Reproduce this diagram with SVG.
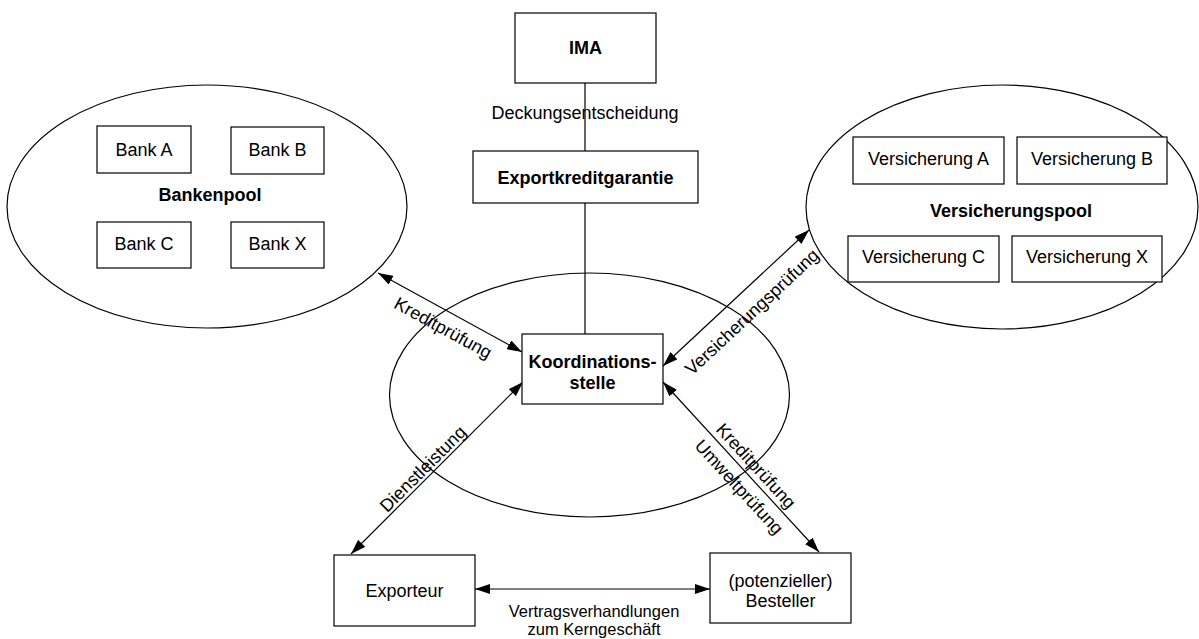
<svg xmlns="http://www.w3.org/2000/svg" width="1199" height="639" viewBox="0 0 1199 639">
  <defs>
    <marker id="arrow" viewBox="0 0 15 10" refX="15" refY="5" markerWidth="15" markerHeight="10" markerUnits="userSpaceOnUse" orient="auto-start-reverse">
      <path d="M0,0 L15,5 L0,10 Z" fill="#000"/>
    </marker>
    <style>
      .box { fill: #fff; stroke: #000; stroke-width: 1.2; }
      .pool { fill: none; stroke: #000; stroke-width: 1.2; }
      .line { fill: none; stroke: #000; stroke-width: 1.2; }
      .both { marker-start: url(#arrow); marker-end: url(#arrow); }
      text { font-family: "Liberation Sans", Arial, sans-serif; font-size: 18px; fill: #000; text-anchor: middle; }
      .b { font-weight: bold; }
      .s { font-size: 16.5px; }
    </style>
  </defs>

  <rect width="1199" height="639" fill="#fff"/>

  <!-- pools (ellipses) -->
  <g id="bankenpool">
    <ellipse class="pool" cx="207" cy="206.5" rx="200" ry="121.5"/>
    <text class="b" x="210" y="201">Bankenpool</text>
  </g>
  <g id="bank-a"><rect class="box" x="97" y="126" width="94" height="47"/><text x="144" y="156">Bank A</text></g>
  <g id="bank-b"><rect class="box" x="231" y="127" width="93" height="47"/><text x="277.5" y="156">Bank B</text></g>
  <g id="bank-c"><rect class="box" x="97" y="222" width="94" height="46"/><text x="144" y="250">Bank C</text></g>
  <g id="bank-x"><rect class="box" x="231" y="222" width="93" height="46"/><text x="277.5" y="250">Bank X</text></g>

  <g id="versicherungspool">
    <ellipse class="pool" cx="1002" cy="207" rx="196" ry="122"/>
    <text class="b" x="1011" y="217">Versicherungspool</text>
  </g>
  <g id="versicherung-a"><rect class="box" x="853" y="137" width="151" height="47"/><text x="928.5" y="165">Versicherung A</text></g>
  <g id="versicherung-b"><rect class="box" x="1017" y="137" width="150" height="47"/><text x="1092" y="165">Versicherung B</text></g>
  <g id="versicherung-c"><rect class="box" x="848" y="236" width="151" height="46"/><text x="923.5" y="263">Versicherung C</text></g>
  <g id="versicherung-x"><rect class="box" x="1012" y="236" width="150" height="46"/><text x="1087" y="263">Versicherung X</text></g>

  <g id="koordinationsbereich">
    <ellipse class="pool" cx="589.5" cy="395" rx="200" ry="122"/>
  </g>

  <!-- connectors -->
  <g id="connectors">
    <line class="line" x1="585" y1="83" x2="585" y2="151"/>
    <line class="line" x1="585" y1="203" x2="585" y2="334"/>
    <line class="line both" x1="378" y1="273" x2="522" y2="352"/>
    <line class="line both" x1="809" y1="230" x2="663" y2="366"/>
    <line class="line both" x1="523" y1="382" x2="351" y2="554"/>
    <line class="line both" x1="663" y1="382" x2="819" y2="552"/>
    <line class="line both" x1="475" y1="589" x2="710" y2="589"/>

    <text x="585" y="119">Deckungsentscheidung</text>
    <text transform="translate(443,328) rotate(28.7)" x="0" y="6">Kreditprüfung</text>
    <text transform="translate(752,312) rotate(-43)" x="0" y="6">Versicherungsprüfung</text>
    <text transform="translate(423,469) rotate(-45)" x="0" y="6">Dienstleistung</text>
    <text transform="translate(756,466) rotate(47.5)" x="0" y="6">Kreditprüfung</text>
    <text transform="translate(739,487) rotate(47.5)" x="0" y="6">Umweltprüfung</text>
    <text class="s" x="594" y="617">Vertragsverhandlungen</text>
    <text class="s" x="594" y="635">zum Kerngeschäft</text>
  </g>

  <!-- nodes -->
  <g id="ima">
    <rect class="box" x="515" y="13" width="141" height="70"/>
    <text class="b" x="585.5" y="54">IMA</text>
  </g>
  <g id="exportkreditgarantie">
    <rect class="box" x="473" y="151" width="225" height="52"/>
    <text class="b" x="585.5" y="184">Exportkreditgarantie</text>
  </g>
  <g id="koordinationsstelle">
    <rect class="box" x="522" y="334" width="141" height="70"/>
    <text class="b" x="592.5" y="368">Koordinations-</text>
    <text class="b" x="592.5" y="389">stelle</text>
  </g>
  <g id="exporteur">
    <rect class="box" x="334" y="555" width="141" height="71"/>
    <text x="404.5" y="597">Exporteur</text>
  </g>
  <g id="besteller">
    <rect class="box" x="710" y="553" width="141" height="70"/>
    <text x="780.5" y="587">(potenzieller)</text>
    <text x="780.5" y="607">Besteller</text>
  </g>
</svg>
